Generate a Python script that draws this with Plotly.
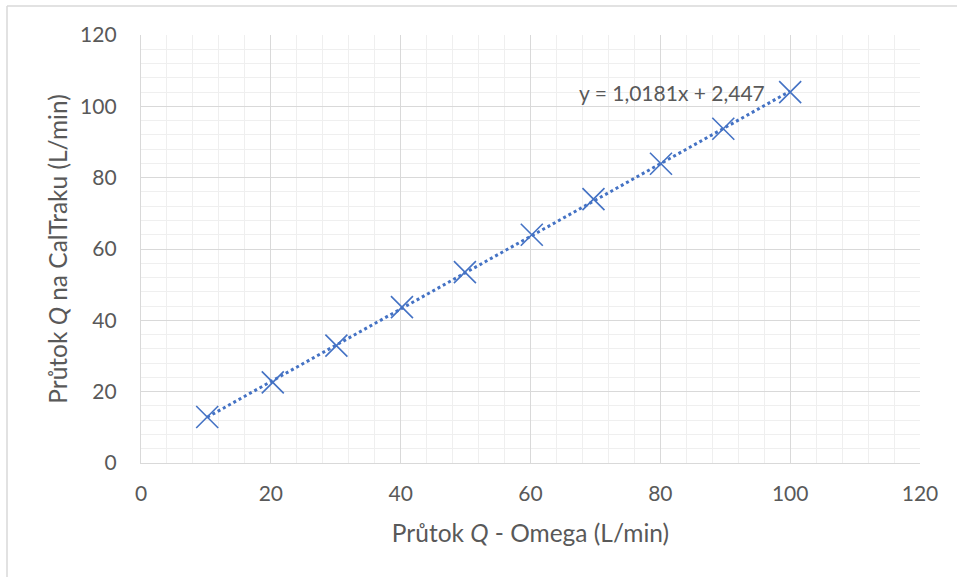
import plotly.graph_objects as go

# Data
omega_flow = [10.2, 20.3, 30.1, 40.2, 49.9, 60.2, 69.7, 80.1, 89.7, 100.0]
caltrak_flow = [12.9, 22.6, 32.9, 43.7, 53.5, 64.0, 74.0, 83.9, 93.7, 104.0]
trend_slope = 1.0181
trend_intercept = 2.447
equation_label = "y = 1,0181x + 2,447"
x_title = "Průtok <i>Q</i> - Omega (L/min)"
y_title = "Průtok <i>Q</i> na CalTraku (L/min)"

BLUE = "#4472C4"
TEXT = "#595959"
FONT = "Lato, Open Sans, sans-serif"

x_min, x_max = min(omega_flow), max(omega_flow)
trend_x = [x_min, x_max]
trend_y = [trend_slope * v + trend_intercept for v in trend_x]

fig = go.Figure()
fig.add_trace(go.Scatter(
    x=trend_x, y=trend_y, mode="lines",
    line=dict(color=BLUE, width=3, dash="dot"),
    hoverinfo="skip", showlegend=False,
))
fig.add_trace(go.Scatter(
    x=omega_flow, y=caltrak_flow, mode="markers",
    marker=dict(symbol="x-thin", size=22, line=dict(color=BLUE, width=1.6), color=BLUE),
    showlegend=False,
))

fig.add_annotation(
    x=81.8, y=103.8, xref="x", yref="y", text=equation_label,
    showarrow=False, font=dict(family=FONT, size=21, color=TEXT),
)

axis_common = dict(
    range=[0, 120], dtick=20, tick0=0,
    showgrid=True, gridcolor="#D9D9D9", gridwidth=1.3,
    zeroline=False, showline=True, linecolor="#D9D9D9", linewidth=1.3,
    ticks="outside", tickcolor="rgba(0,0,0,0)",
    tickfont=dict(family=FONT, size=21, color=TEXT),
    minor=dict(dtick=4, showgrid=True, gridcolor="#EFEFEF", gridwidth=1.4),
    fixedrange=True,
)

fig.update_xaxes(**axis_common, ticklen=12,
                 title=dict(text=x_title, font=dict(family=FONT, size=24.5, color=TEXT), standoff=20),
                 mirror=False)
fig.update_yaxes(**axis_common, ticklen=19,
                 title=dict(text=y_title, font=dict(family=FONT, size=24.5, color=TEXT), standoff=5))

# chart-area border (top and left edges visible in the reference)
fig.add_shape(type="line", xref="paper", yref="paper",
              x0=(7 - 141) / 779, x1=1.06, y0=(463 - 6) / 428, y1=(463 - 6) / 428,
              line=dict(color="#D9D9D9", width=1.5))
fig.add_shape(type="line", xref="paper", yref="paper",
              x0=(7 - 141) / 779, x1=(7 - 141) / 779, y0=(463 - 6) / 428, y1=-0.3,
              line=dict(color="#D9D9D9", width=1.5))

fig.update_layout(
    width=957, height=577, autosize=False,
    margin=dict(l=141, r=37, t=35, b=114),
    paper_bgcolor="white", plot_bgcolor="white",
    font=dict(family=FONT, color=TEXT),
)

fig.write_html("out.html", config={"displayModeBar": False},
               post_script="document.body.style.margin='0';document.body.style.overflow='hidden';")
